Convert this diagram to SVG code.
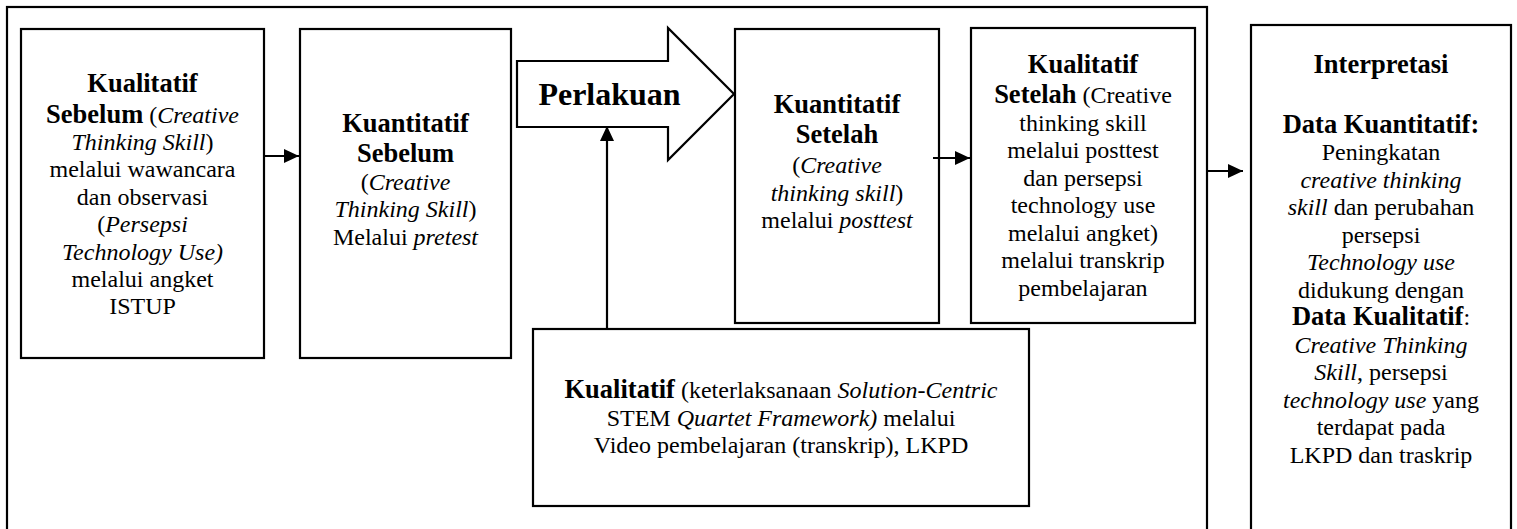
<svg xmlns="http://www.w3.org/2000/svg" width="1517" height="529" viewBox="0 0 1517 529" font-family="'Liberation Serif', Tinos, 'Times New Roman', 'DejaVu Serif', serif">
<style>
.box{fill:#fff;stroke:#000;stroke-width:2.2}
.ln{stroke:#000;stroke-width:2.2;fill:none}
text{font-family:'Liberation Serif', Tinos, 'Times New Roman', 'DejaVu Serif', serif;font-size:24px;fill:#000;text-anchor:middle}
.b{font-weight:bold;font-size:26.5px}
.i{font-style:italic}
.big{font-weight:bold;font-size:32px}
</style>
<defs>
<marker id="ah" markerUnits="userSpaceOnUse" markerWidth="16" markerHeight="14" refX="15" refY="7" orient="auto">
<path d="M0,0 L15,7 L0,14 Z" fill="#000"/>
</marker>
</defs>
<rect width="1517" height="529" fill="#fff"/>
<g id="frame"><rect class="box" x="7" y="7" width="1200" height="540" fill="none"/></g>

<g id="n1">
<rect class="box" x="21" y="29" width="243" height="329"/>
<text x="142.5" y="92"><tspan class="b">Kualitatif</tspan></text>
<text x="142.5" y="123"><tspan class="b">Sebelum</tspan> (<tspan class="i">Creative</tspan></text>
<text x="142.5" y="150"><tspan class="i">Thinking Skill</tspan>)</text>
<text x="142.5" y="177">melalui wawancara</text>
<text x="142.5" y="204.5">dan observasi</text>
<text x="142.5" y="232">(<tspan class="i">Persepsi</tspan></text>
<text x="142.5" y="259.5" class="i">Technology Use)</text>
<text x="142.5" y="287">melalui angket</text>
<text x="142.5" y="314">ISTUP</text>
</g>

<g id="n2">
<rect class="box" x="300" y="29" width="211" height="329"/>
<text x="405.5" y="132"><tspan class="b">Kuantitatif</tspan></text>
<text x="405.5" y="162"><tspan class="b">Sebelum</tspan></text>
<text x="405.5" y="190">(<tspan class="i">Creative</tspan></text>
<text x="405.5" y="217"><tspan class="i">Thinking Skill</tspan>)</text>
<text x="405.5" y="244.5">Melalui <tspan class="i">pretest</tspan></text>
</g>

<g id="perlakuan">
<path class="box" d="M517,61 H668 V28 L734,94 L668,160 V127 H517 Z"/>
<text x="609.5" y="105" class="big">Perlakuan</text>
</g>

<g id="n3">
<rect class="box" x="735" y="29" width="204" height="294"/>
<text x="837" y="113"><tspan class="b">Kuantitatif</tspan></text>
<text x="837" y="143"><tspan class="b">Setelah</tspan></text>
<text x="837" y="173">(<tspan class="i">Creative</tspan></text>
<text x="837" y="200.5"><tspan class="i">thinking skill</tspan>)</text>
<text x="837" y="228">melalui <tspan class="i">posttest</tspan></text>
</g>

<g id="n4">
<rect class="box" x="971" y="28" width="224" height="295"/>
<text x="1083" y="73"><tspan class="b">Kualitatif</tspan></text>
<text x="1083" y="103"><tspan class="b">Setelah</tspan> (Creative</text>
<text x="1083" y="130.5">thinking skill</text>
<text x="1083" y="158">melalui posttest</text>
<text x="1083" y="185.5">dan persepsi</text>
<text x="1083" y="213">technology use</text>
<text x="1083" y="240.5">melalui angket)</text>
<text x="1083" y="268">melalui transkrip</text>
<text x="1083" y="295.5">pembelajaran</text>
</g>

<g id="n5">
<rect class="box" x="533" y="329" width="496" height="177"/>
<text x="781" y="398"><tspan class="b">Kualitatif</tspan> (keterlaksanaan <tspan class="i">Solution-Centric</tspan></text>
<text x="781" y="426">STEM <tspan class="i">Quartet Framework)</tspan> melalui</text>
<text x="781" y="453">Video pembelajaran (transkrip), LKPD</text>
</g>

<g id="n6">
<rect class="box" x="1251" y="25" width="260" height="520"/>
<text x="1381" y="73"><tspan class="b">Interpretasi</tspan></text>
<text x="1381" y="132.5"><tspan class="b">Data Kuantitatif:</tspan></text>
<text x="1381" y="160">Peningkatan</text>
<text x="1381" y="187.5" class="i">creative thinking</text>
<text x="1381" y="215"><tspan class="i">skill</tspan> dan perubahan</text>
<text x="1381" y="242.5">persepsi</text>
<text x="1381" y="270" class="i">Technology use</text>
<text x="1381" y="297.5">didukung dengan</text>
<text x="1381" y="325"><tspan class="b">Data Kualitatif</tspan>:</text>
<text x="1381" y="352.5" class="i">Creative Thinking</text>
<text x="1381" y="380"><tspan class="i">Skill</tspan>, persepsi</text>
<text x="1381" y="407.5"><tspan class="i">technology use</tspan> yang</text>
<text x="1381" y="435">terdapat pada</text>
<text x="1381" y="462.5">LKPD dan traskrip</text>
</g>

<g id="connectors">
<line class="ln" x1="264" y1="156" x2="299" y2="156" marker-end="url(#ah)"/>
<line class="ln" x1="933" y1="158" x2="970" y2="158" marker-end="url(#ah)"/>
<line class="ln" x1="1207" y1="171" x2="1243" y2="171" marker-end="url(#ah)"/>
<line class="ln" x1="607" y1="329" x2="607" y2="126" marker-end="url(#ah)"/>
</g>
</svg>
